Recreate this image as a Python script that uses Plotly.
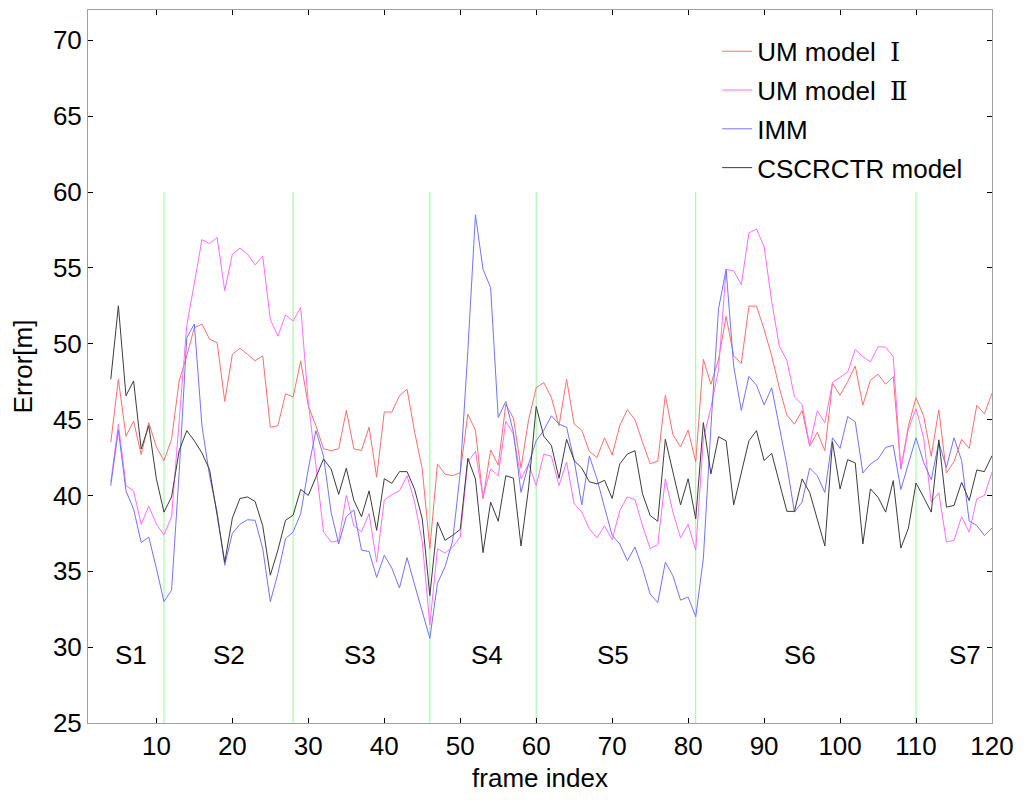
import plotly.graph_objects as go

# frame index 4..120
frames = list(range(4, 121))

um_model_1 = [
    43.5, 47.66, 43.9, 44.9, 42.7, 44.8, 43.2, 42.3, 43.7, 47.55,
    49.2, 51.06, 51.3, 50.3, 50.07, 46.2, 49.3, 49.7, 49.3, 48.87,
    49.2, 44.5, 44.6, 46.7, 46.5, 48.87, 45.9, 44.6, 43.07, 42.96,
    43.07, 45.6, 43.07, 42.96, 44.5, 41.2, 45.5, 45.5, 46.57, 47.0,
    44.16, 41.75, 36.5, 42.08, 41.4, 41.3, 41.5, 45.36, 44.3, 39.78,
    43.0, 42.0, 46.0, 45.1, 41.8, 45.0, 47.1, 47.44, 46.46, 44.6,
    47.66, 44.7, 44.3, 42.9, 42.5, 43.8, 42.67, 44.6, 45.65, 45.0,
    43.5, 42.1, 42.25, 46.6, 44.0, 43.2, 44.3, 42.2, 48.97, 47.33,
    48.97, 51.8, 49.2, 48.7, 52.48, 52.48, 50.95, 49.2, 47.1, 45.3,
    44.7, 45.6, 43.24, 44.16, 42.95, 47.4, 46.6, 47.5, 48.53, 45.95,
    47.6, 47.99, 47.33, 47.83, 41.74, 44.6, 46.45, 45.25, 42.58, 45.64,
    41.48, 42.23, 43.7, 43.1, 45.95, 45.38, 46.74,
]

um_model_2 = [
    40.9, 44.7, 40.65, 40.3, 38.1, 39.3, 38.1, 37.4, 38.6, 45.0,
    51.2, 54.0, 56.86, 56.6, 57.0, 53.5, 55.9, 56.3, 55.9, 55.2,
    55.77, 51.6, 50.5, 51.9, 51.5, 52.4, 46.1, 42.0, 37.6, 36.93,
    37.0, 40.0, 38.0, 37.6, 38.8, 35.6, 39.7, 40.05, 40.3, 41.3,
    39.56, 36.93, 31.46, 36.49, 36.2, 36.6, 37.26, 42.2, 42.9, 39.9,
    41.75, 41.3, 44.9, 44.05, 41.1, 42.08, 40.65, 42.73, 42.58, 40.65,
    42.2, 39.45, 38.9, 37.8, 37.2, 38.0, 37.08, 39.0, 39.9, 39.73,
    38.0, 36.5, 36.75, 41.09, 38.9, 37.2, 38.1, 36.38, 43.7, 45.8,
    48.3, 54.9, 54.8, 53.9, 57.3, 57.56, 56.4, 52.8, 49.85, 48.9,
    46.5, 46.0, 43.3, 45.58, 44.8, 47.44, 47.77, 48.14, 49.63, 49.15,
    48.8, 49.8, 49.78, 49.15, 41.74, 44.37, 45.73, 43.8, 39.55, 40.17,
    36.93, 37.04, 38.6, 37.58, 39.77, 40.0, 41.53,
]

imm = [
    40.65, 44.3, 40.3, 39.1, 36.9, 37.25, 35.2, 33.0, 33.75, 41.5,
    50.4, 51.3, 44.6, 41.3, 38.9, 35.4, 37.5, 38.1, 38.4, 38.36,
    36.5, 33.0, 34.85, 37.15, 37.6, 38.8, 41.75, 44.27, 42.6, 38.9,
    36.8, 38.6, 39.05, 36.4, 36.3, 34.6, 36.06, 35.2, 33.9, 35.9,
    34.1, 32.33, 30.58, 34.2, 35.3, 37.0, 41.5, 49.5, 58.5, 54.9,
    53.7, 45.14, 46.2, 44.16, 40.2, 42.08, 43.6, 44.3, 45.25, 44.7,
    44.5, 42.3, 39.38, 42.6, 41.1, 39.2, 37.37, 36.8, 35.7, 36.6,
    35.2, 33.5, 32.94, 35.6, 34.7, 33.1, 33.3, 32.0, 35.83, 44.5,
    52.3, 54.9, 48.5, 45.6, 47.84, 47.27, 45.97, 47.1, 44.6, 41.97,
    38.9, 39.56, 41.8, 41.3, 40.2, 43.8, 43.1, 45.2, 44.85, 41.48,
    42.07, 42.4, 43.17, 43.3, 40.39, 42.18, 43.8, 42.18, 41.04, 43.5,
    41.85, 43.8, 42.3, 38.3, 38.02, 37.36, 37.85,
]

cscrctr = [
    47.66, 52.5, 46.57, 47.55, 43.06, 44.6, 41.1, 38.9, 39.9, 42.95,
    44.27, 43.6, 42.8, 41.7, 38.7, 35.6, 38.5, 39.8, 39.9, 39.6,
    38.0, 34.74, 36.4, 38.36, 38.7, 40.4, 40.0, 41.2, 42.4, 41.75,
    40.07, 41.8, 39.67, 38.6, 40.3, 37.7, 41.1, 40.8, 41.57, 41.57,
    40.4, 38.46, 33.4, 38.24, 37.04, 37.37, 37.76, 42.45, 41.09, 36.23,
    39.56, 38.3, 41.3, 41.14, 36.67, 40.5, 45.86, 43.9, 43.3, 41.13,
    43.7, 42.3, 41.8, 40.9, 40.76, 41.0, 39.8, 42.08, 42.73, 42.95,
    40.1, 38.68, 38.3, 43.7, 41.5, 39.38, 41.1, 38.46, 44.8, 41.42,
    43.87, 43.6, 39.38, 41.5, 43.6, 44.27, 42.3, 42.78, 40.87, 38.95,
    38.95, 41.09, 40.2, 38.46, 36.67, 43.54, 40.43, 42.36, 42.14, 36.8,
    40.43, 39.88, 38.9, 40.98, 36.53, 37.85, 40.82, 39.88, 38.9, 43.67,
    39.23, 39.34, 40.87, 39.66, 41.68, 41.57, 42.62,
]

# segment boundaries (green lines) and segment labels
boundaries = [11, 28, 46, 60, 81, 110]
boundary_top = 60
segment_names = ["S1", "S2", "S3", "S4", "S5", "S6", "S7"]
segment_x = [6.7, 19.5, 36.8, 53.5, 70.1, 94.7, 116.4]
segment_y = 29.5

x_ticks = [10, 20, 30, 40, 50, 60, 70, 80, 90, 100, 110, 120]
y_ticks = [25, 30, 35, 40, 45, 50, 55, 60, 65, 70]

FONT = "Liberation Sans, Arial, sans-serif"
SERIF = "<span style='font-family:DejaVu Serif, Liberation Serif, serif'>%s</span>"

fig = go.Figure()

for b in boundaries:
    fig.add_trace(go.Scatter(x=[b, b], y=[25, boundary_top], mode="lines",
                             line=dict(color="#9cf59c", width=1),
                             showlegend=False, hoverinfo="skip"))

series = [
    ("UM model  " + SERIF % "Ⅰ", um_model_1, "#ff6e6e"),
    ("UM model  " + SERIF % "Ⅱ", um_model_2, "#ff6eff"),
    ("IMM", imm, "#7373ff"),
    ("CSCRCTR model", cscrctr, "#3c3c3c"),
]
for i, (name, vals, col) in enumerate(series):
    fig.add_trace(go.Scatter(x=frames, y=vals, mode="lines", name=name,
                             legendgroup=str(i),
                             line=dict(color=col, width=1)))

for name, sx in zip(segment_names, segment_x):
    fig.add_annotation(x=sx, y=segment_y, text=name, showarrow=False,
                       font=dict(family=FONT, size=26, color="black"))

axis_common = dict(
    showline=True, linecolor="#a0a0a0", linewidth=1, mirror="ticks",
    ticks="inside", ticklen=5, tickcolor="black", showgrid=False,
    zeroline=False,
    tickfont=dict(family=FONT, size=26, color="black"),
)

# page body adds 8px, so the figure is a bit smaller than the window
fig.update_layout(
    width=1016, height=795,
    margin=dict(l=80, r=32, t=2, b=80),
    plot_bgcolor="white", paper_bgcolor="white",
    xaxis=dict(range=[1, 120], tickvals=x_ticks,
               title=dict(text="frame index", standoff=8,
                          font=dict(family=FONT, size=26, color="black")),
               **axis_common),
    yaxis=dict(range=[25, 72], tickvals=y_ticks,
               title=dict(text="Error[m]", standoff=12,
                          font=dict(family=FONT, size=26, color="black")),
               **axis_common),
    legend=dict(x=0.696, y=0.975, xanchor="left", yanchor="top",
                bgcolor="rgba(0,0,0,0)", tracegroupgap=2,
                font=dict(family=FONT, size=26, color="black")),
    showlegend=True,
)

fig.write_html("out.html")
